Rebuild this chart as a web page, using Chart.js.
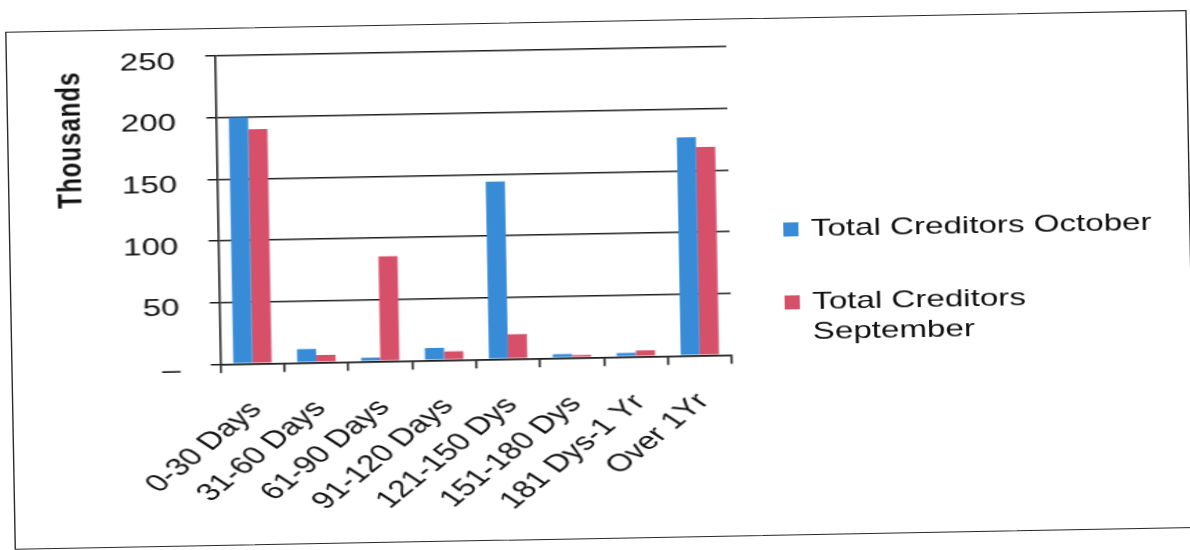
<!DOCTYPE html>
<html>
<head>
<meta charset="utf-8">
<script src="https://cdn.jsdelivr.net/npm/chart.js@4.4.1/dist/chart.umd.min.js"></script>
<style>
  html, body { margin: 0; padding: 0; background: #fff; overflow: hidden; width: 1190px; height: 550px; }
  /* The sheet is laid out narrow, then widened and tilted slightly as on the printed page */
  #stage {
    position: absolute; left: 164px; top: 0; width: 862px; height: 550px;
    transform-origin: 431px 275px;
    transform: rotate(-1.05deg) scaleX(1.3805);
  }
  #frame {
    position: absolute; left: 6.5px; top: 21px; width: 856px; height: 518px;
    border: 1.5px solid #2a2a2a; box-sizing: border-box;
  }
  #c { position: absolute; left: 0; top: 0; }
  #legend {
    position: absolute; left: 568px; top: 217px; width: 290px;
    font-family: "Liberation Sans", Arial, sans-serif; font-size: 24px;
    color: #111; line-height: 30px;
  }
  .item { position: relative; padding-left: 20px; width: 265px; }
  .swatch { position: absolute; left: 0; top: 8.5px; width: 10.5px; height: 14px; }
</style>
</head>
<body>
<div id="stage">
  <div id="frame"></div>
  <canvas id="c" width="862" height="550"></canvas>
  <div id="legend"></div>
</div>
<script>
// Ageing buckets and creditor totals (thousands)
const categories = ['0-30 Days', '31-60 Days', '61-90 Days', '91-120 Days',
                    '121-150 Dys', '151-180 Dys', '181 Dys-1 Yr', 'Over 1Yr'];
const octoberValues   = [200, 11, 3, 10, 144, 3, 3, 177];
const septemberValues = [190, 6, 85, 7, 20, 2, 5, 169];
const seriesNames = ['Total Creditors October', 'Total Creditors September'];
const seriesColors = ['#388cd7', '#d7506a'];
const yTickValues = [0, 50, 100, 150, 200, 250];
const zeroTickLabel = '–';
const yAxisTitle = 'Thousands';

const FONT = '"Liberation Sans", Arial, sans-serif';
const INK = '#111';
const LINE = '#1e1e1e';

// Vertical axis title, set towards the upper part of the axis
const yTitlePlugin = {
  id: 'yTitle',
  afterDraw(chart) {
    const { ctx, chartArea } = chart;
    ctx.save();
    ctx.font = 'bold 24px ' + FONT;
    ctx.letterSpacing = '1px';
    ctx.fillStyle = INK;
    ctx.textAlign = 'center';
    ctx.textBaseline = 'middle';
    ctx.translate(53.5, chartArea.top + 81.5);
    ctx.rotate(-Math.PI / 2);
    ctx.fillText(yAxisTitle, 0, 0);
    ctx.restore();
  }
};

// Legend built from the datasets
const htmlLegendPlugin = {
  id: 'htmlLegend',
  afterUpdate(chart) {
    const box = document.getElementById('legend');
    box.innerHTML = '';
    chart.data.datasets.forEach((ds, i) => {
      const item = document.createElement('div');
      item.className = 'item';
      item.style.marginTop = i === 0 ? '0px' : '43px';
      const sw = document.createElement('span');
      sw.className = 'swatch';
      sw.style.background = ds.backgroundColor;
      const tx = document.createElement('span');
      tx.textContent = ds.label;
      item.appendChild(sw);
      item.appendChild(tx);
      box.appendChild(item);
    });
  }
};

new Chart(document.getElementById('c'), {
  type: 'bar',
  data: {
    labels: categories,
    datasets: [
      { label: seriesNames[0], data: octoberValues, backgroundColor: seriesColors[0] },
      { label: seriesNames[1], data: septemberValues, backgroundColor: seriesColors[1] }
    ]
  },
  options: {
    responsive: false,
    devicePixelRatio: 1,
    animation: false,
    layout: { padding: { left: 0, top: 49, right: 333, bottom: 0 } },
    datasets: { bar: { categoryPercentage: 0.6, barPercentage: 1.0 } },
    plugins: { legend: { display: false }, tooltip: { enabled: false } },
    scales: {
      x: {
        grid: { offset: true, drawOnChartArea: false, drawTicks: true, tickLength: 9,
                color: LINE, lineWidth: 1.5 },
        border: { display: true, color: LINE, width: 1.5 },
        ticks: { autoSkip: false, minRotation: 47, maxRotation: 47, padding: 23,
                 labelOffset: 2, color: INK, font: { family: FONT, size: 24.5 } },
        afterFit(scale) { scale.height = 550 - 357.3; }
      },
      y: {
        min: 0, max: 250,
        afterBuildTicks(scale) { scale.ticks = yTickValues.map(v => ({ value: v })); },
        grid: { color: LINE, lineWidth: 1.5, drawTicks: true, tickLength: 7 },
        border: { display: true, color: LINE, width: 1.5 },
        ticks: {
          padding: 22, labelOffset: 6, color: INK,
          font: { family: FONT, size: 24 },
          callback: v => (v === 0 ? zeroTickLabel : String(v))
        },
        afterFit(scale) { scale.width = 158.6; }
      }
    }
  },
  plugins: [yTitlePlugin, htmlLegendPlugin]
});
</script>
</body>
</html>
